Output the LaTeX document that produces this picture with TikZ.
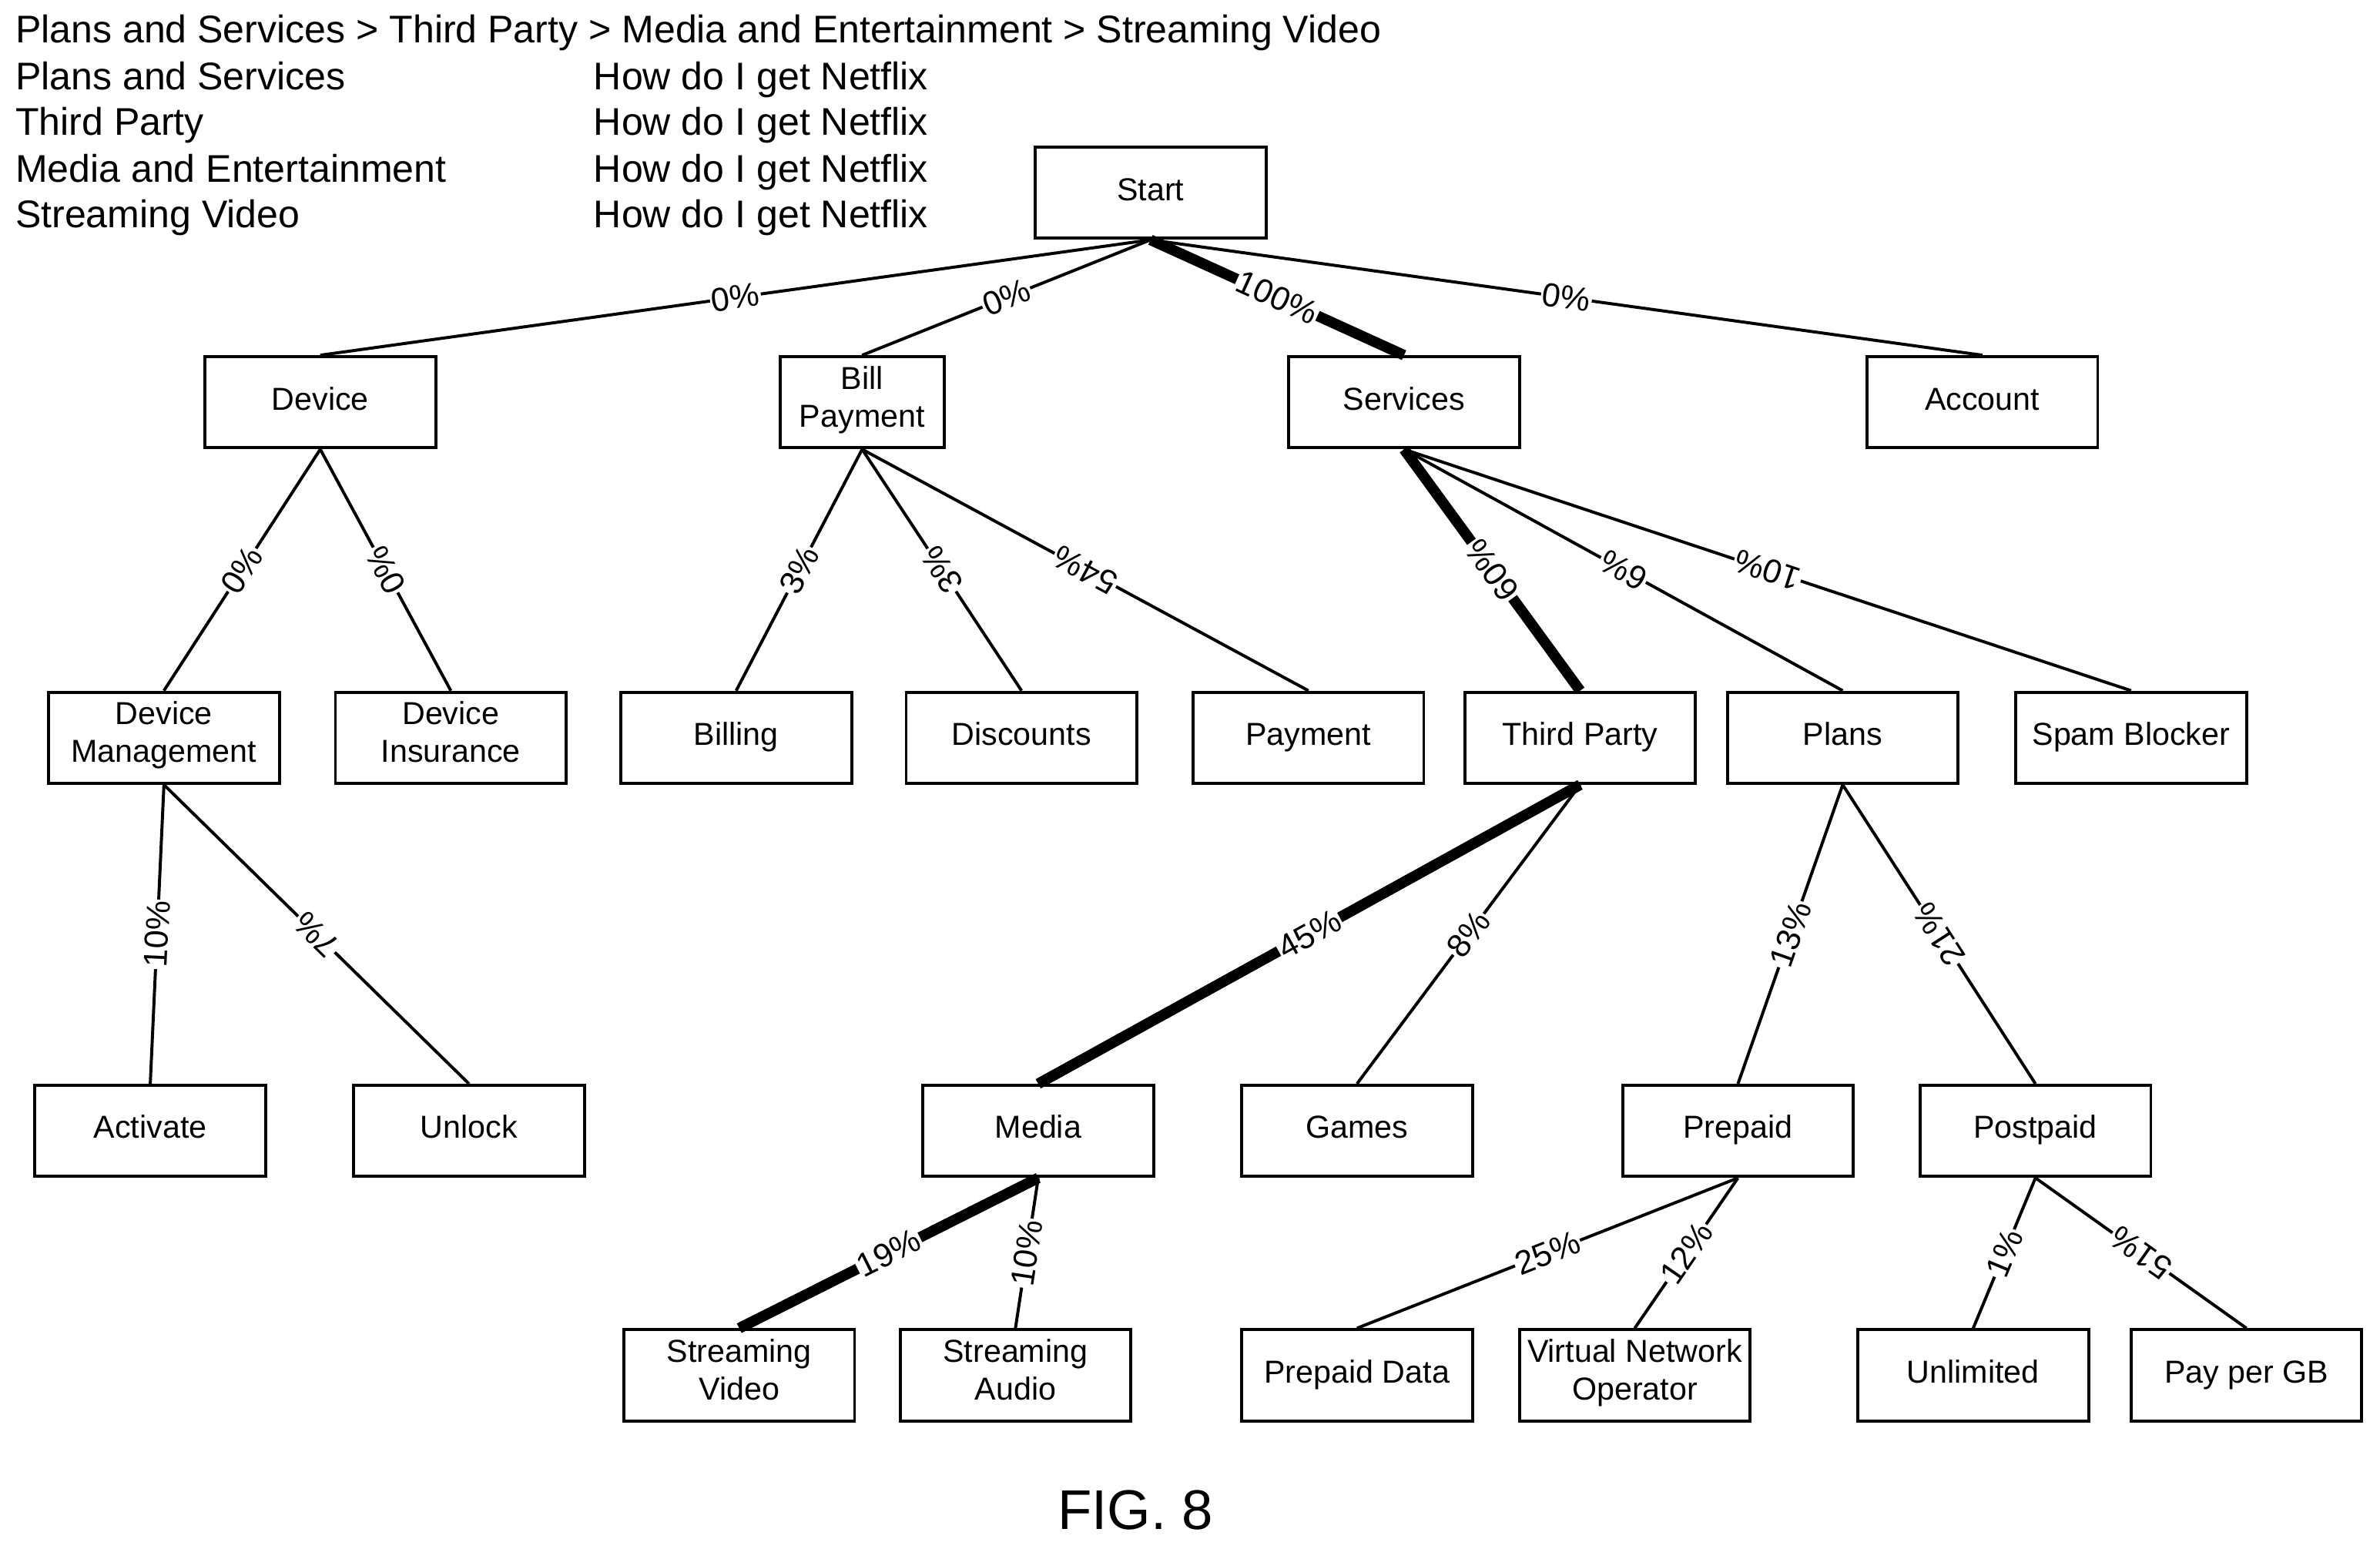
\documentclass[tikz,border=0pt]{standalone}
\usepackage{fontspec}
\setmainfont{Liberation Sans}
\begin{document}
\begin{tikzpicture}[x=1bp,y=-1bp,
 box/.style={draw,line width=2bp,minimum width=152bp,minimum height=60bp,align=center,font=\fontsize{21}{25}\selectfont,inner sep=2bp,execute at begin node=\strut},
 e/.style={line width=2bp},
 t/.style={line width=7bp},
 lab/.style={midway,sloped,fill=white,inner sep=1bp,font=\fontsize{22}{26}\selectfont},
 rl/.style={lab,rotate=180},
 hd/.style={anchor=base west,font=\fontsize{25.5}{29}\selectfont,inner sep=0}]
\useasboundingbox (0,0) rectangle (1568,1020);
\node[hd] (h0) at (10,28) {Plans and Services > Third Party > Media and Entertainment > Streaming Video};
\node[hd] (h1) at (10,59) {Plans and Services};
\node[hd] (h2) at (10,89) {Third Party};
\node[hd] (h3) at (10,120) {Media and Entertainment};
\node[hd] (h4) at (10,150) {Streaming Video};
\node[hd] (q1) at (391,59) {How do I get Netflix};
\node[hd] (q2) at (391,89) {How do I get Netflix};
\node[hd] (q3) at (391,120) {How do I get Netflix};
\node[hd] (q4) at (391,150) {How do I get Netflix};
\node[box] (start) at (758,127) {Start};
\node[box] (dev) at (211,265) {Device};
\node[box,minimum width=108bp] (bill) at (568,265) {Bill\\Payment};
\node[box] (serv) at (925,265) {Services};
\node[box] (acc) at (1306,265) {Account};
\node[box] (dm) at (108,486) {Device\\Management};
\node[box] (di) at (297,486) {Device\\Insurance};
\node[box] (billing) at (485,486) {Billing};
\node[box] (disc) at (673,486) {Discounts};
\node[box] (pay) at (862,486) {Payment};
\node[box] (tp) at (1041,486) {Third Party};
\node[box] (plans) at (1214,486) {Plans};
\node[box] (spam) at (1404,486) {Spam Blocker};
\node[box] (act) at (99,745) {Activate};
\node[box] (unl) at (309,745) {Unlock};
\node[box] (media) at (684,745) {Media};
\node[box] (games) at (894,745) {Games};
\node[box] (pre) at (1145,745) {Prepaid};
\node[box] (post) at (1341,745) {Postpaid};
\node[box] (sv) at (487,906) {Streaming\\Video};
\node[box] (sa) at (669,906) {Streaming\\Audio};
\node[box] (pd) at (894,906) {Prepaid Data};
\node[box] (vno) at (1077,906) {Virtual Network\\Operator};
\node[box] (unlim) at (1300,906) {Unlimited};
\node[box] (ppg) at (1480,906) {Pay per GB};
\node[font=\fontsize{37}{40}\selectfont] (fig) at (748,995) {FIG. 8};
\draw[e] (start.south) -- (dev.north) node[lab]{0\%};
\draw[e] (start.south) -- (bill.north) node[lab]{0\%};
\draw[t] (start.south) -- (serv.north) node[lab]{100\%};
\draw[e] (start.south) -- (acc.north) node[lab]{0\%};
\draw[e] (dev.south) -- (dm.north) node[lab]{0\%};
\draw[e] (dev.south) -- (di.north) node[rl]{0\%};
\draw[e] (bill.south) -- (billing.north) node[lab]{3\%};
\draw[e] (bill.south) -- (disc.north) node[rl]{3\%};
\draw[e] (bill.south) -- (pay.north) node[rl]{54\%};
\draw[t] (serv.south) -- (tp.north) node[rl]{60\%};
\draw[e] (serv.south) -- (plans.north) node[rl]{6\%};
\draw[e] (serv.south) -- (spam.north) node[rl]{10\%};
\draw[e] (dm.south) -- (act.north) node[lab]{10\%};
\draw[e] (dm.south) -- (unl.north) node[rl]{7\%};
\draw[t] (tp.south) -- (media.north) node[lab]{45\%};
\draw[e] (tp.south) -- (games.north) node[lab]{8\%};
\draw[e] (plans.south) -- (pre.north) node[lab]{13\%};
\draw[e] (plans.south) -- (post.north) node[rl]{21\%};
\draw[t] (media.south) -- (sv.north) node[lab]{19\%};
\draw[e] (media.south) -- (sa.north) node[lab]{10\%};
\draw[e] (pre.south) -- (pd.north) node[lab]{25\%};
\draw[e] (pre.south) -- (vno.north) node[lab]{12\%};
\draw[e] (post.south) -- (unlim.north) node[lab]{1\%};
\draw[e] (post.south) -- (ppg.north) node[rl]{51\%};
\end{tikzpicture}
\end{document}
